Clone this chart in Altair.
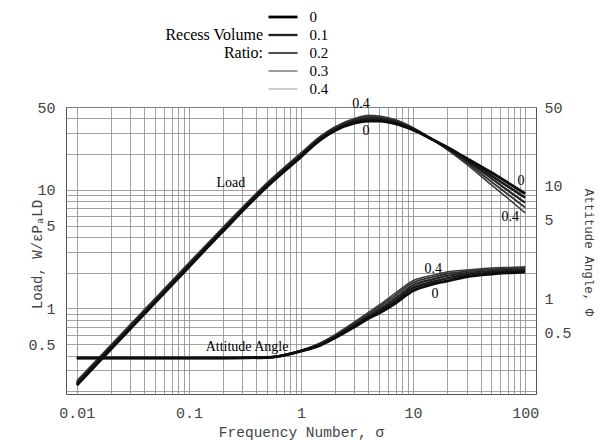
import altair as alt
import pandas as pd

# Frequency numbers at which the curves are sampled
sigma = [0.01, 0.02, 0.05, 0.1, 0.2, 0.5, 1, 1.5, 2, 3, 4, 5, 7, 10, 15, 20, 30, 50, 70, 100]

ratio_labels = ["0", "0.1", "0.2", "0.3", "0.4"]
ratio_values = [0.0, 0.1, 0.2, 0.3, 0.4]

# Load, W/(eps Pa L D), one list per recess volume ratio
load_r0 = [0.225, 0.45, 1.12, 2.24, 4.45, 10.7, 19.0, 26.5, 31.5, 36.5, 38.0, 38.0, 36.0, 32.0, 26.5, 23.0, 18.5, 14.0, 11.5, 9.3]
load_r1 = [0.23, 0.46, 1.14, 2.29, 4.55, 10.9, 19.4, 27.0, 32.1, 37.4, 39.1, 39.0, 36.8, 32.4, 26.5, 22.8, 18.0, 13.2, 10.7, 8.6]
load_r2 = [0.235, 0.47, 1.17, 2.33, 4.63, 11.1, 19.8, 27.5, 32.8, 38.4, 40.3, 40.0, 37.6, 32.8, 26.5, 22.5, 17.5, 12.5, 9.9, 7.8]
load_r3 = [0.24, 0.48, 1.19, 2.38, 4.72, 11.3, 20.1, 28.0, 33.4, 39.2, 41.4, 41.0, 38.3, 33.2, 26.5, 22.2, 17.0, 11.7, 9.2, 7.1]
load_r4 = [0.245, 0.49, 1.22, 2.43, 4.8, 11.5, 20.5, 28.5, 34.0, 40.0, 42.5, 42.0, 39.0, 33.5, 26.5, 22.0, 16.5, 11.0, 8.5, 6.4]

# Attitude angle, read against the right-hand axis
att_r0 = [0.30, 0.30, 0.30, 0.30, 0.30, 0.303, 0.345, 0.39, 0.45, 0.565, 0.67, 0.75, 0.92, 1.18, 1.35, 1.44, 1.57, 1.66, 1.70, 1.73]
att_r1 = [0.30, 0.30, 0.30, 0.30, 0.30, 0.303, 0.346, 0.395, 0.457, 0.58, 0.69, 0.78, 0.97, 1.25, 1.42, 1.52, 1.63, 1.71, 1.75, 1.78]
att_r2 = [0.30, 0.30, 0.30, 0.30, 0.30, 0.304, 0.347, 0.40, 0.465, 0.595, 0.71, 0.81, 1.02, 1.32, 1.49, 1.60, 1.69, 1.77, 1.80, 1.83]
att_r3 = [0.30, 0.30, 0.30, 0.30, 0.30, 0.304, 0.348, 0.405, 0.472, 0.61, 0.735, 0.85, 1.08, 1.39, 1.56, 1.67, 1.75, 1.83, 1.85, 1.88]
att_r4 = [0.30, 0.30, 0.30, 0.30, 0.30, 0.305, 0.35, 0.41, 0.48, 0.625, 0.76, 0.885, 1.13, 1.45, 1.62, 1.73, 1.80, 1.88, 1.90, 1.92]

# In-plot annotations, placed in (sigma, load) coordinates
note_text = ["Load", "Attitude Angle", "0.4", "0", "0", "0.4", "0.4", "0"]
note_sigma = [0.237, 0.33, 3.43, 3.8, 92.0, 73.5, 15.1, 15.7]
note_value = [11.4, 0.473, 53.0, 31.4, 11.9, 5.9, 2.15, 1.32]

legend_title_text = ["Recess Volume", "Ratio:"]
legend_title_row = [0.1, 0.2]

x_ticks = [round(m * 10 ** e, 4) for e in range(-2, 2) for m in range(1, 10)] + [100]
x_labels = [0.01, 0.1, 1, 10, 100]
y_ticks = [round(m * 10 ** e, 4) for e in range(-1, 2) for m in range(1, 10) if 0.2 <= m * 10 ** e <= 50]
y_labels = [0.5, 1, 5, 10, 50]

load_series = [load_r0, load_r1, load_r2, load_r3, load_r4]
att_series = [att_r0, att_r1, att_r2, att_r3, att_r4]

rows_load, rows_att = [], []
for lab, rv, ls, at in zip(ratio_labels, ratio_values, load_series, att_series):
    for s, lv, av in zip(sigma, ls, at):
        rows_load.append({"sigma": s, "value": lv, "ratio": lab, "rv": rv})
        rows_att.append({"sigma": s, "value": av, "ratio": lab, "rv": rv})
load_df = pd.DataFrame(rows_load).iloc[::-1]
att_df = pd.DataFrame(rows_att).iloc[::-1]
notes_df = pd.DataFrame({"sigma": note_sigma, "value": note_value, "text": note_text})
legend_df = pd.DataFrame({"ratio": ratio_labels, "rv": ratio_values})
legend_title_df = pd.DataFrame({"rv": legend_title_row, "text": legend_title_text})

MONO = "Liberation Mono"
SERIF = "Liberation Serif"
AX_COLOR = "#444444"


def list_expr(vals):
    return "[" + ",".join(repr(v) for v in vals) + "]"


x_enc = alt.X(
    "sigma:Q",
    scale=alt.Scale(type="log", domain=[0.008, 125], nice=False),
    axis=alt.Axis(
        values=x_ticks,
        format="~g",
        labelExpr=f"indexof({list_expr(x_labels)}, datum.value) >= 0 ? datum.label : ''",
        labelOverlap=False,
        title="Frequency Number, σ",
        titleY=38,
        titleBaseline="middle",
        titleFontSize=14.5,
        labelPadding=11,
        grid=True,
    ),
)

# curve styling in the plot body
line_color = alt.Color("ratio:N", scale=alt.Scale(domain=ratio_labels,
                       range=["#0d0d0d", "#1a1a1a", "#262626", "#333333", "#3d3d3d"]), legend=None)
line_width = alt.StrokeWidth("rv:Q", scale=alt.Scale(domain=[0, 0.4], range=[2.8, 1.6]), legend=None)

# key styling: heavier and darker for the smaller ratios
key_color = alt.Color("ratio:N", scale=alt.Scale(domain=ratio_labels,
                      range=["#000000", "#222222", "#444444", "#777777", "#999999"]), legend=None)
key_width = alt.StrokeWidth("rv:Q", scale=alt.Scale(domain=[0, 0.4], range=[2.8, 1.0]), legend=None)

load_scale = alt.Scale(type="log", domain=[0.19, 50], nice=False)
att_scale = alt.Scale(type="log", domain=[0.144, 50], nice=False)
legend_scale = alt.Scale(domain=[0, 0.4], range=[-90, -18], nice=False, zero=False)

load_lines = alt.Chart(load_df).mark_line(interpolate="monotone").encode(
    x=x_enc,
    y=alt.Y(
        "value:Q",
        scale=load_scale,
        axis=alt.Axis(
            orient="left",
            values=y_ticks,
            format="~g",
            labelExpr=f"indexof({list_expr(y_labels)}, datum.value) >= 0 ? datum.label : ''",
            labelOverlap=False,
            labelPadding=11,
            title="Load, W/εPₐLD",
            titleX=-29,
            titleY=147,
            titleAngle=270,
            titleAlign="center",
            titleBaseline="middle",
            grid=True,
        ),
    ),
    color=line_color,
    strokeWidth=line_width,
)

notes = alt.Chart(notes_df).mark_text(font=SERIF, fontSize=14, color="#000000").encode(
    x=x_enc,
    y=alt.Y("value:Q", scale=load_scale, axis=None),
    text="text:N",
)

att_lines = alt.Chart(att_df).mark_line(interpolate="monotone").encode(
    x=x_enc,
    y=alt.Y(
        "value:Q",
        scale=att_scale,
        axis=alt.Axis(
            orient="right",
            values=y_labels,
            format="~g",
            labelOverlap=False,
            labelPadding=8,
            title="Attitude Angle, Φ",
            titleX=52,
            titleY=145,
            titleAngle=90,
            titleAlign="center",
            titleBaseline="middle",
            titleFontSize=12.5,
            grid=False,
        ),
    ),
    color=line_color,
    strokeWidth=line_width,
)

legend_rules = alt.Chart(legend_df).mark_rule().encode(
    y=alt.Y("rv:Q", scale=legend_scale, axis=None),
    x=alt.value(202.5),
    x2=alt.value(231.5),
    color=key_color,
    strokeWidth=key_width,
)

legend_labels = alt.Chart(legend_df).mark_text(font=SERIF, fontSize=15, align="left", color="#000000").encode(
    y=alt.Y("rv:Q", scale=legend_scale, axis=None),
    x=alt.value(243.5),
    text="ratio:N",
)

legend_title = alt.Chart(legend_title_df).mark_text(font=SERIF, fontSize=16, align="right", color="#000000").encode(
    y=alt.Y("rv:Q", scale=legend_scale, axis=None),
    x=alt.value(197),
    text="text:N",
)

chart = (
    alt.layer(load_lines, notes, att_lines, legend_rules, legend_labels, legend_title)
    .resolve_scale(y="independent", color="independent", strokeWidth="independent")
    .properties(
        width=470,
        height=287,
        autosize=alt.AutoSizeParams(type="none"),
        padding={"left": 66, "top": 107, "right": 65, "bottom": 46},
        background="white",
    )
    .configure_view(stroke="#555555", strokeWidth=1)
    .configure_axis(
        labelFont=MONO,
        labelFontSize=15,
        labelColor=AX_COLOR,
        titleFont=MONO,
        titleFontSize=14,
        titleFontWeight="normal",
        titleColor=AX_COLOR,
        ticks=False,
        domain=False,
        gridColor="#8a8a8a",
        gridWidth=0.8,
        gridOpacity=1,
    )
)

chart.save("out.html", embed_options={"renderer": "svg", "actions": False})
